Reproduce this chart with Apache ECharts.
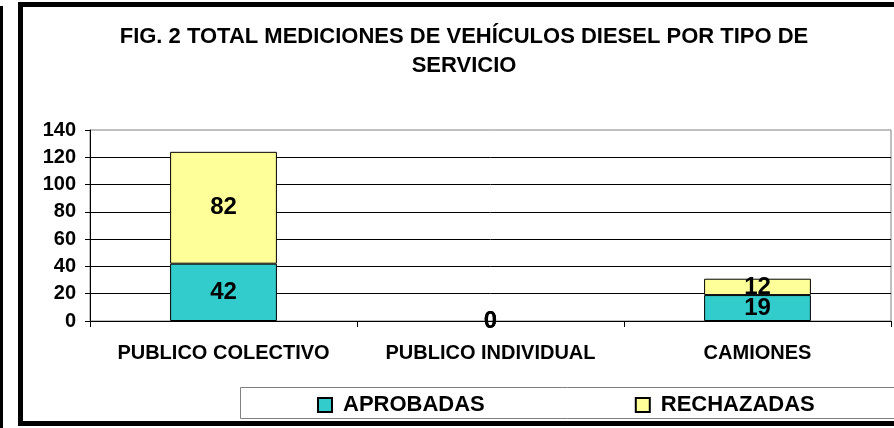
<!DOCTYPE html>
<html>
<head>
<meta charset="UTF-8">
<title>Fig. 2</title>
<style type="text/css">
	html, body { margin: 0; padding: 0; background: #fff; }
	#chart { width: 894px; height: 428px; }
</style>
<script type="text/javascript" src="https://cdn.jsdelivr.net/npm/echarts@6/dist/echarts.min.js"></script>
</head>
<body>
	<div id="chart"></div>
<script type="text/javascript">
	// datos
	var categorias = ['PUBLICO COLECTIVO', 'PUBLICO INDIVIDUAL', 'CAMIONES'];
	var aprobadas = [42, 0, 19];
	var rechazadas = [82, 0, 12];
	var ticksY = [0, 20, 40, 60, 80, 100, 120, 140];

	var fuente = '"Liberation Sans", Arial, sans-serif';
	var mychar = echarts.init(document.getElementById('chart'));

	var etiqueta = {
		show: true,
		position: 'inside',
		color: '#000',
		fontFamily: fuente,
		fontWeight: 'bold',
		fontSize: 24
	};

	// las barras en cero no muestran borde
	function puntos(valores) {
		return valores.map(function (v) {
			return v === 0 ? { value: v, itemStyle: { borderWidth: 0 } } : v;
		});
	}

	var option = {
		animation: false,
		title: {
			text: 'FIG. 2 TOTAL MEDICIONES DE VEHÍCULOS DIESEL POR TIPO DE\nSERVICIO',
			left: 459,
			textAlign: 'center',
			top: 17,
			textStyle: {
				fontFamily: fuente,
				fontWeight: 'bold',
				fontSize: 22,
				lineHeight: 29,
				color: '#000'
			}
		},
		grid: {
			left: 90,
			right: 3,
			top: 130,
			bottom: 107,
			show: true,
			borderColor: '#808080',
			borderWidth: 1
		},
		legend: {
			left: 317,
			top: 394,
			padding: 0,
			itemWidth: 14,
			itemHeight: 14,
			itemGap: 150,
			icon: 'rect',
			textStyle: {
				fontFamily: fuente,
				fontWeight: 'bold',
				fontSize: 22,
				lineHeight: 22,
				color: '#000',
				padding: [0, 0, 0, 6]
			},
			data: ['APROBADAS', 'RECHAZADAS']
		},
		xAxis: {
			type: 'category',
			data: categorias,
			axisLine: { lineStyle: { color: '#000', width: 1 } },
			axisTick: { show: true, length: 6, lineStyle: { color: '#000' } },
			axisLabel: {
				interval: 0,
				hideOverlap: false,
				margin: 22,
				color: '#000',
				fontFamily: fuente,
				fontWeight: 'bold',
				fontSize: 20
			}
		},
		yAxis: {
			type: 'value',
			min: ticksY[0],
			max: ticksY[ticksY.length - 1],
			interval: 20,
			axisLine: { show: true, lineStyle: { color: '#000', width: 1 } },
			axisTick: { show: true, length: 5, lineStyle: { color: '#000' } },
			axisLabel: {
				margin: 14,
				color: '#000',
				fontFamily: fuente,
				fontWeight: 'bold',
				fontSize: 20
			},
			splitLine: {
				show: true,
				showMaxLine: false,
				lineStyle: { color: '#000', width: 1 }
			}
		},
		series: [
			{
				name: 'APROBADAS',
				type: 'bar',
				stack: 'total',
				barWidth: '40%',
				data: puntos(aprobadas),
				itemStyle: { color: '#33CCCC', borderColor: '#000', borderWidth: 1 },
				label: etiqueta
			},
			{
				name: 'RECHAZADAS',
				type: 'bar',
				stack: 'total',
				barWidth: '40%',
				data: puntos(rechazadas),
				itemStyle: { color: '#FFFF99', borderColor: '#000', borderWidth: 1 },
				label: etiqueta
			}
		],
		graphic: [
			// marco de la leyenda
			{
				type: 'rect',
				z: -1,
				shape: { x: 240.5, y: 387.5, width: 700, height: 31 },
				style: { fill: '#fff', stroke: '#808080', lineWidth: 1 }
			},
			// marco exterior del grafico
			{
				type: 'rect',
				z: 100,
				shape: { x: 20.5, y: 4.5, width: 900, height: 419 },
				style: { fill: 'none', stroke: '#000', lineWidth: 5 }
			},
			{
				type: 'rect',
				z: 100,
				shape: { x: 0, y: 6, width: 3, height: 422 },
				style: { fill: '#000' }
			}
		]
	};
	mychar.setOption(option);
</script>
</body>
</html>
